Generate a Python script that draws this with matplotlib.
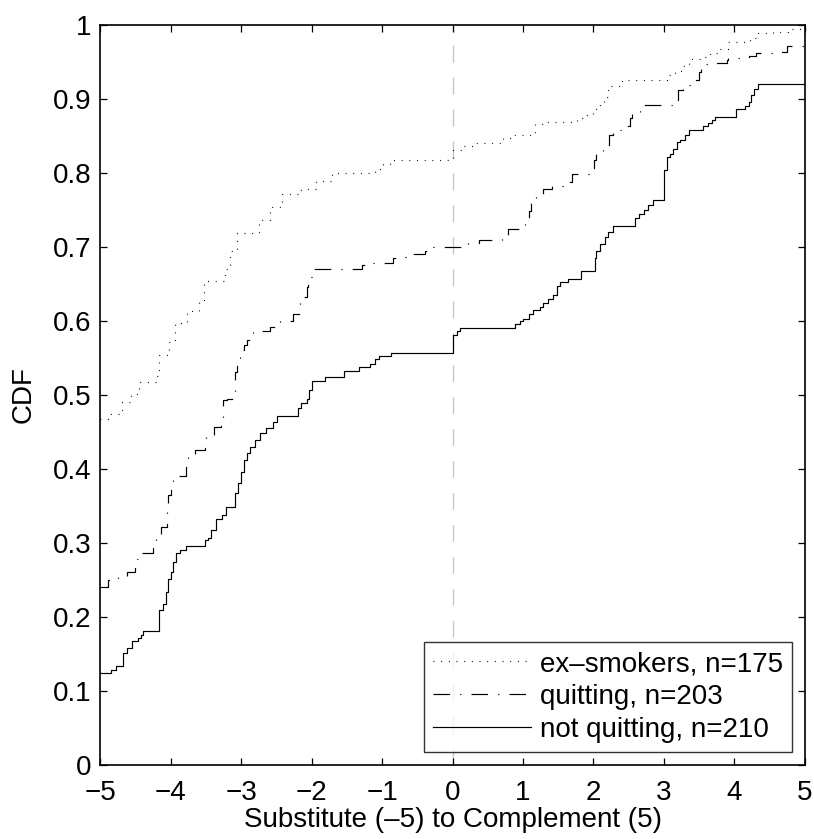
import numpy as np
import matplotlib
matplotlib.use("Agg")
import matplotlib.pyplot as plt

plt.rcParams["font.family"] = ["Liberation Sans", "DejaVu Sans"]

# step positions (x) and CDF value from that x onward (y)
ex_x = [-5, -4.88, -4.69, -4.56, -4.45, -4.21, -4.16, -4.02, -3.93, -3.77, -3.60,
        -3.52, -3.23, -3.16, -3.06, -2.75, -2.59, -2.42, -2.15, -1.94, -1.71,
        -1.10, -0.98, -0.88, 0.0, 0.15, 0.34, 0.72, 0.84, 1.17, 1.34, 1.76, 1.88,
        2.00, 2.09, 2.15, 2.21, 2.41, 3.04, 3.16, 3.27, 3.35, 3.51, 3.65, 3.77,
        3.91, 4.22, 4.34, 4.55, 4.76, 4.93]
ex_y = [0.468, 0.475, 0.491, 0.501, 0.517, 0.526, 0.554, 0.572, 0.597, 0.613, 0.629,
        0.654, 0.670, 0.695, 0.719, 0.737, 0.754, 0.772, 0.778, 0.789, 0.800,
        0.806, 0.812, 0.818, 0.831, 0.836, 0.840, 0.847, 0.851, 0.866, 0.869,
        0.874, 0.879, 0.886, 0.896, 0.903, 0.917, 0.926, 0.932, 0.938, 0.944,
        0.954, 0.957, 0.962, 0.968, 0.977, 0.983, 0.989, 0.991, 0.995, 0.999]

quit_x = [-5, -4.88, -4.74, -4.62, -4.50, -4.43, -4.25, -4.20, -4.14, -4.05, -4.03,
          -3.99, -3.96, -3.78, -3.75, -3.65, -3.51, -3.49, -3.39, -3.28, -3.26,
          -3.20, -3.12, -3.09, -3.06, -3.01, -2.96, -2.92, -2.83, -2.59, -2.47,
          -2.45, -2.26, -2.16, -2.12, -2.07, -2.05, -2.00, -1.29, -1.15, -0.84,
          -0.67, -0.61, -0.39, -0.27, 0.22, 0.37, 0.70, 0.79, 1.03, 1.09, 1.12,
          1.19, 1.29, 1.41, 1.57, 1.69, 1.93, 2.01, 2.04, 2.14, 2.22, 2.28, 2.42,
          2.52, 2.54, 2.66, 3.13, 3.20, 3.27, 3.39, 3.49, 3.53, 3.75, 3.89, 3.91,
          4.20, 4.31, 4.65, 4.75]
quit_y = [0.241, 0.250, 0.254, 0.261, 0.279, 0.286, 0.297, 0.311, 0.322, 0.347, 0.365,
          0.374, 0.390, 0.408, 0.419, 0.426, 0.435, 0.444, 0.457, 0.466, 0.493,
          0.495, 0.504, 0.531, 0.550, 0.561, 0.567, 0.574, 0.586, 0.592, 0.597,
          0.600, 0.610, 0.626, 0.633, 0.646, 0.660, 0.670, 0.676, 0.679, 0.685,
          0.686, 0.690, 0.695, 0.700, 0.705, 0.709, 0.715, 0.724, 0.736, 0.748,
          0.761, 0.770, 0.779, 0.783, 0.788, 0.799, 0.806, 0.818, 0.827, 0.838,
          0.851, 0.858, 0.863, 0.874, 0.883, 0.892, 0.899, 0.912, 0.919, 0.926,
          0.937, 0.947, 0.948, 0.953, 0.956, 0.958, 0.962, 0.964, 0.972]

notq_x = [-5, -4.85, -4.77, -4.67, -4.62, -4.55, -4.46, -4.42, -4.39, -4.17, -4.16,
          -4.10, -4.06, -4.03, -4.00, -3.96, -3.92, -3.86, -3.78, -3.51, -3.47,
          -3.42, -3.35, -3.27, -3.22, -3.09, -3.04, -3.00, -2.96, -2.92, -2.87,
          -2.80, -2.73, -2.64, -2.54, -2.49, -2.19, -2.15, -2.07, -2.04, -2.00,
          -1.81, -1.54, -1.32, -1.17, -1.10, -1.04, -0.87, 0.0, 0.06, 0.11, 0.88,
          0.96, 1.00, 1.08, 1.14, 1.24, 1.29, 1.36, 1.42, 1.48, 1.53, 1.64, 1.82,
          2.02, 2.04, 2.09, 2.16, 2.21, 2.28, 2.59, 2.64, 2.71, 2.78, 2.85, 3.00,
          3.04, 3.09, 3.13, 3.18, 3.23, 3.30, 3.35, 3.56, 3.63, 3.68, 3.72, 4.02,
          4.15, 4.20, 4.24, 4.28, 4.34]
notq_y = [0.124, 0.128, 0.134, 0.151, 0.158, 0.167, 0.172, 0.176, 0.181, 0.197, 0.209,
          0.218, 0.234, 0.252, 0.261, 0.275, 0.286, 0.290, 0.296, 0.304, 0.307,
          0.318, 0.332, 0.338, 0.348, 0.367, 0.381, 0.396, 0.412, 0.422, 0.430,
          0.439, 0.448, 0.455, 0.464, 0.472, 0.482, 0.489, 0.495, 0.507, 0.519,
          0.524, 0.533, 0.538, 0.542, 0.548, 0.553, 0.557, 0.581, 0.586, 0.591,
          0.596, 0.600, 0.603, 0.610, 0.615, 0.619, 0.625, 0.630, 0.635, 0.647,
          0.653, 0.657, 0.667, 0.685, 0.694, 0.704, 0.714, 0.720, 0.729, 0.739,
          0.745, 0.750, 0.757, 0.763, 0.804, 0.822, 0.826, 0.833, 0.842, 0.845,
          0.851, 0.858, 0.864, 0.868, 0.872, 0.876, 0.886, 0.891, 0.896, 0.905,
          0.914, 0.920]

labels = ["ex\u2013smokers, n=175", "quitting, n=203", "not quitting, n=210"]
XMIN, XMAX = -5, 5
FS = 20


def ext(xs, ys):
    # carry the last value out to the right edge of the axis
    return np.append(xs, XMAX), np.append(ys, ys[-1])


fig = plt.figure(figsize=(8.14, 8.39), dpi=100)
ax = fig.add_axes([0.1229, 0.0882, 0.8660, 0.8820])

ax.axvline(0, color="#c8c8c8", lw=1.0, dashes=(12.2, 10.8), zorder=1)

lw = 0.85
x, y = ext(ex_x, ex_y)
ax.step(x, y, where="post", color="k", lw=lw, dashes=(0.8, 5.7), label=labels[0])
x, y = ext(quit_x, quit_y)
ax.step(x, y, where="post", color="k", lw=lw, dashes=(14, 8.6, 1, 8.6), label=labels[1])
x, y = ext(notq_x, notq_y)
ax.step(x, y, where="post", color="k", lw=lw, label=labels[2])

ax.set_xlim(XMIN, XMAX)
ax.set_ylim(0, 1)
ax.set_xticks(np.arange(-5, 6))
ax.set_yticks(np.arange(0, 1.01, 0.1))
ax.set_yticklabels(["%g" % round(v, 1) for v in np.arange(0, 1.01, 0.1)])
ax.tick_params(direction="in", length=5, width=0.9, labelsize=FS,
               top=True, right=True, colors="k")
ax.tick_params(axis="x", pad=10.5)
ax.tick_params(axis="y", pad=6)
for s in ax.spines.values():
    s.set_linewidth(1.2)

ax.set_xlabel("Substitute (\u20135) to Complement (5)", fontsize=FS, labelpad=1)
ax.set_ylabel("CDF", fontsize=FS, labelpad=12)

leg = ax.legend(loc="lower right", bbox_to_anchor=(0.982, 0.0176), borderaxespad=0,
                fontsize=FS, frameon=True, fancybox=False, edgecolor="k",
                handlelength=3.5, handletextpad=0.35, labelspacing=0.25,
                borderpad=0.32)
leg.get_frame().set_linewidth(1.0)

fig.savefig("out.png", dpi=100, facecolor="white")
